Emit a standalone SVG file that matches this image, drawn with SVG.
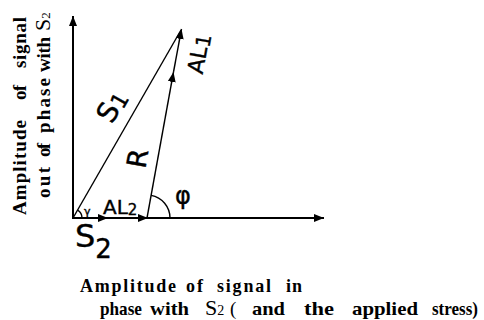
<svg xmlns="http://www.w3.org/2000/svg" width="484" height="320" viewBox="0 0 484 320">
<defs>
<style>
.ax{stroke:#000;stroke-width:2;fill:none}
.ln{stroke:#000;stroke-width:1.4;fill:none}
.sans{font-family:"DejaVu Sans","Liberation Sans",sans-serif;fill:#000;stroke:#000;stroke-width:0.4}
.serb{font-family:"Liberation Serif","Times New Roman",serif;font-weight:bold;fill:#000}
.ser{font-family:"Liberation Serif","Times New Roman",serif;font-weight:normal;fill:#000}
</style>
<marker id="ah" markerUnits="userSpaceOnUse" markerWidth="10" markerHeight="8" refX="10" refY="4" orient="auto">
<path d="M0,0 L10,4 L0,8 z" fill="#000"/>
</marker>
</defs>
<rect width="484" height="320" fill="#fff"/>
<g id="connectors">
<line class="ax" x1="73" y1="219" x2="73" y2="16" marker-end="url(#ah)"/>
<line class="ax" x1="72" y1="218" x2="324" y2="218" marker-end="url(#ah)"/>
<line class="ln" x1="73" y1="218" x2="108" y2="218" marker-end="url(#ah)"/>
<line class="ln" x1="108" y1="218" x2="148" y2="218" marker-end="url(#ah)"/>
<line class="ln" x1="73" y1="218" x2="181" y2="30"/>
<line class="ln" x1="147" y1="218" x2="173.5" y2="72" marker-end="url(#ah)"/>
<line class="ln" x1="173.5" y1="72" x2="181.5" y2="29" marker-end="url(#ah)"/>
<path class="ln" d="M170,218 A23,23 0 0,0 151.1,195.4"/>
<path class="ln" d="M82,218 A9,9 0 0,0 77.5,210.2" stroke-width="1.2"/>
</g>
<g id="label-S1"><text class="sans" font-size="28" text-anchor="middle" transform="translate(120,111) rotate(-60)">S<tspan font-size="22" dy="2">1</tspan></text></g>
<g id="label-R"><text class="sans" font-size="27" text-anchor="middle" transform="translate(147,160) rotate(-80)">R</text></g>
<g id="label-AL1"><text class="sans" font-size="22" text-anchor="middle" transform="translate(206,55) rotate(-80)">AL<tspan font-size="20" dy="2">1</tspan></text></g>
<g id="label-AL2"><text class="sans" font-size="20" x="103" y="214">AL<tspan font-size="15" dy="1">2</tspan></text></g>
<g id="label-S2"><text class="sans" font-size="32" x="75" y="247">S<tspan font-size="26" dy="11">2</tspan></text></g>
<g id="label-gamma"><text class="sans" font-size="11" x="84" y="215">γ</text></g>
<g id="label-phi"><text class="sans" font-size="24" x="175" y="204">φ</text></g>
<g id="ylabel">
<g transform="translate(26,0) rotate(-90)">
<text class="serb" font-size="19" x="-215" y="0" textLength="95" lengthAdjust="spacing">Amplitude</text>
<text class="serb" font-size="19" x="-100" y="0" textLength="15" lengthAdjust="spacing">of</text>
<text class="serb" font-size="19" x="-68" y="0" textLength="51" lengthAdjust="spacing">signal</text>
</g>
<g transform="translate(50,0) rotate(-90)">
<text class="serb" font-size="19" x="-198" y="0" textLength="31" lengthAdjust="spacing">out</text>
<text class="serb" font-size="19" x="-157" y="0" textLength="14" lengthAdjust="spacing">of</text>
<text class="serb" font-size="19" x="-133" y="0" textLength="55" lengthAdjust="spacing">phase</text>
<text class="serb" font-size="19" x="-72" y="0" textLength="35" lengthAdjust="spacing">with</text>
<text class="ser" font-size="22" x="-31" y="0">S<tspan font-size="13">2</tspan></text>
</g>
</g>
<g id="xlabel">
<text class="serb" font-size="18" y="292" x="80" textLength="96" lengthAdjust="spacing">Amplitude</text>
<text class="serb" font-size="18" y="292" x="186" textLength="17" lengthAdjust="spacing">of</text>
<text class="serb" font-size="18" y="292" x="217" textLength="54" lengthAdjust="spacing">signal</text>
<text class="serb" font-size="18" y="292" x="286" textLength="16" lengthAdjust="spacing">in</text>
<text class="serb" font-size="19" y="315" x="100" textLength="42" lengthAdjust="spacingAndGlyphs">phase</text>
<text class="serb" font-size="19" y="315" x="150" textLength="39" lengthAdjust="spacingAndGlyphs">with</text>
<text class="ser" font-size="22" y="315" x="205">S<tspan font-size="14">2</tspan></text>
<text class="ser" font-size="19" y="315" x="230">(</text>
<text class="serb" font-size="19" y="315" x="252" textLength="33" lengthAdjust="spacingAndGlyphs">and</text>
<text class="serb" font-size="19" y="315" x="304" textLength="30" lengthAdjust="spacingAndGlyphs">the</text>
<text class="serb" font-size="19" y="315" x="352" textLength="66" lengthAdjust="spacingAndGlyphs">applied</text>
<text class="serb" font-size="19" y="315" x="432" textLength="46" lengthAdjust="spacingAndGlyphs">stress)</text>
</g>
</svg>
